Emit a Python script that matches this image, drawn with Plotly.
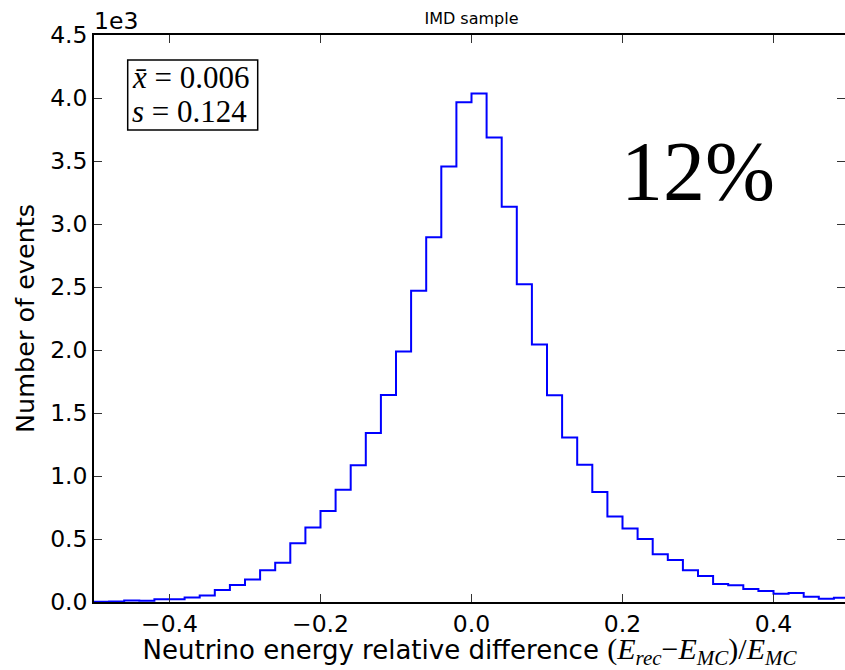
import plotly.graph_objects as go

# ---- data ----
bin_edges = [-0.50, -0.48, -0.46, -0.44, -0.42, -0.40, -0.38, -0.36, -0.34, -0.32,
             -0.30, -0.28, -0.26, -0.24, -0.22, -0.20, -0.18, -0.16, -0.14, -0.12,
             -0.10, -0.08, -0.06, -0.04, -0.02, 0.00, 0.02, 0.04, 0.06, 0.08,
             0.10, 0.12, 0.14, 0.16, 0.18, 0.20, 0.22, 0.24, 0.26, 0.28,
             0.30, 0.32, 0.34, 0.36, 0.38, 0.40, 0.42, 0.44, 0.46, 0.48, 0.50]
counts = [2, 4, 12, 10, 22, 22, 36, 52, 95, 135,
          178, 252, 312, 466, 592, 722, 890, 1085, 1342, 1642,
          1988, 2470, 2895, 3457, 3967, 4035, 3687, 3137, 2522, 2043,
          1641, 1305, 1090, 874, 678, 583, 500, 378, 333, 251,
          206, 143, 132, 103, 87, 66, 71, 42, 26, 34]
x_tickvals = [-0.4, -0.2, 0.0, 0.2, 0.4]
x_ticktext = ["\u22120.4", "\u22120.2", "0.0", "0.2", "0.4"]
y_tickvals = [0, 500, 1000, 1500, 2000, 2500, 3000, 3500, 4000, 4500]
y_ticktext = ["0.0", "0.5", "1.0", "1.5", "2.0", "2.5", "3.0", "3.5", "4.0", "4.5"]
mean_val = 0.006
std_val = 0.124
resolution_label = "12%"

W, H = 845, 670
L, T, B, R = 94, 35, 67.5, 0
PW = W - L - R
PH = H - T - B
px_per_unit = 755.0
x_max = -0.5 + PW / px_per_unit

def px_x(p):
    return (p - L) / PW

def px_y(p):
    return (H - B - p) / PH

step_y = counts + [counts[-1]]

SANS = "DejaVu Sans"
SERIF = "Liberation Serif"

fig = go.Figure()
fig.add_trace(go.Scatter(x=bin_edges, y=step_y, mode="lines", line_shape="hv",
                         line=dict(color="#0000ff", width=2), showlegend=False,
                         hoverinfo="skip"))
# helper trace for right-hand ticks
fig.add_trace(go.Scatter(x=bin_edges, y=step_y, mode="lines", yaxis="y2",
                         line=dict(color="rgba(0,0,0,0)", width=0), showlegend=False,
                         hoverinfo="skip"))

math_label = ("<span style='font-family:Liberation Serif;font-size:30px'>(<i>E</i><sub><i>rec</i></sub>"
              "\u2212<i>E</i><sub><i>MC</i></sub>)/<i>E</i><sub><i>MC</i></sub></span>")

fig.update_layout(
    width=W, height=H,
    margin=dict(l=L, r=R, t=T, b=B),
    paper_bgcolor="white", plot_bgcolor="white",
    font=dict(family=SANS, color="black"),
    title=dict(text="IMD sample", x=(L + L + 755) / 2 / W, xanchor="center",
               y=1 - 18 / H, yanchor="middle", font=dict(size=16, family=SANS)),
    xaxis=dict(range=[-0.5, x_max], tickvals=x_tickvals, ticktext=x_ticktext,
               ticks="inside", ticklen=8, tickwidth=1, tickcolor="#333",
               showline=True, linecolor="black", linewidth=1.5, mirror="ticks",
               showgrid=False, zeroline=False, tickfont=dict(size=23.5),
               title=dict(text="Neutrino energy relative difference " + math_label,
                          font=dict(size=26), standoff=6)),
    yaxis=dict(range=[0, 4500], tickvals=y_tickvals, ticktext=y_ticktext,
               ticks="inside", ticklen=8, tickwidth=1, tickcolor="#333",
               showline=True, linecolor="black", linewidth=1.5, mirror=False,
               showgrid=False, zeroline=False, tickfont=dict(size=23.5),
               title=dict(text="Number of events", font=dict(size=25.5), standoff=8)),
    yaxis2=dict(range=[0, 4500], overlaying="y", side="right", tickvals=y_tickvals,
                ticks="inside", ticklen=8, tickwidth=1, tickcolor="#333",
                showticklabels=False, showline=False, showgrid=False, zeroline=False),
)

fig.add_annotation(xref="paper", yref="paper", x=0, y=1, xanchor="left", yanchor="bottom",
                   text="1e3", showarrow=False, font=dict(size=23.5, family=SANS),
                   yshift=-2, xshift=-2)

# stats box
fig.add_shape(type="rect", xref="paper", yref="paper",
              x0=px_x(127.7), x1=px_x(257.7), y0=px_y(130), y1=px_y(60),
              line=dict(color="black", width=1.5), fillcolor="white", layer="above")
fig.add_annotation(xref="paper", yref="paper", x=px_x(130), y=px_y(78),
                   xanchor="left", yanchor="middle", showarrow=False,
                   text=f"<i>x\u0304</i> = {mean_val:.3f}",
                   font=dict(size=31, family=SERIF))
fig.add_annotation(xref="paper", yref="paper", x=px_x(130), y=px_y(112),
                   xanchor="left", yanchor="middle", showarrow=False,
                   text=f"<i>s</i> = {std_val:.3f}",
                   font=dict(size=31, family=SERIF))

fig.add_annotation(x=0.3, y=3420, xref="x", yref="y", text=resolution_label, showarrow=False,
                   font=dict(size=84, family=SERIF), xanchor="center", yanchor="middle")

fig.write_html("out.html")
